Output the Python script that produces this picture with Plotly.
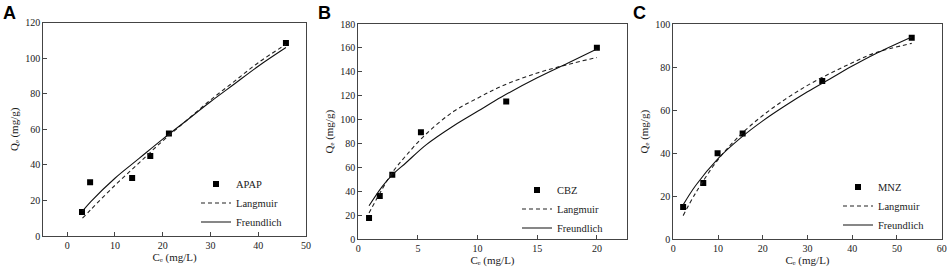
import plotly.graph_objects as go

# ---------------- data ----------------
# Panel A: APAP
apap_ce = [3.1, 4.8, 13.6, 17.4, 21.3, 45.8]
apap_qe = [13.5, 30.2, 32.7, 45.0, 57.6, 108.6]
apap_fit_ce = [3.2, 5, 10, 15, 20, 25, 30, 35, 40, 45.8]
apap_lang = [10.0, 15.0, 28.5, 41.0, 53.5, 65.0, 76.5, 87.0, 97.5, 107.8]
apap_freu = [14.0, 19.5, 32.5, 43.5, 54.5, 65.0, 75.5, 85.5, 95.5, 106.0]

# Panel B: CBZ
cbz_ce = [0.9, 1.8, 2.85, 5.25, 12.4, 20.0]
cbz_qe = [17.8, 36.2, 54.0, 89.4, 115.3, 160.2]
cbz_fit_ce = [0.9, 2, 2.87, 4, 5.68, 8, 10, 12, 15, 17.5, 20]
cbz_lang = [22, 42, 56, 70, 88, 107, 118, 128, 139, 146, 152]
cbz_freu = [28, 44, 54, 64, 79, 95, 107, 119, 135, 147, 159]

# Panel C: MNZ
mnz_ce = [2.2, 6.7, 9.9, 15.5, 33.3, 53.3]
mnz_qe = [15.0, 26.2, 40.0, 49.1, 73.5, 93.6]
mnz_fit_ce = [2.2, 5, 10, 15, 20, 25, 30, 35, 40, 45, 53.3]
mnz_lang = [11.0, 21.5, 37.0, 48.5, 57.5, 65.0, 71.5, 77.0, 82.0, 86.5, 91.0]
mnz_freu = [16.0, 25.0, 37.5, 47.0, 55.0, 62.0, 68.5, 74.5, 80.5, 86.0, 94.0]

x_title = "C\u2091 (mg/L)"
y_title = "Q\u2091 (mg/g)"

panels = [
    ("A", "APAP", apap_ce, apap_qe, apap_fit_ce, apap_lang, apap_freu),
    ("B", "CBZ", cbz_ce, cbz_qe, cbz_fit_ce, cbz_lang, cbz_freu),
    ("C", "MNZ", mnz_ce, mnz_qe, mnz_fit_ce, mnz_lang, mnz_freu),
]

# ---------------- layout geometry ----------------
W, H = 948, 274
x_dom = [(43.3 / W, 306 / W), (358.3 / W, 626.7 / W), (673.3 / W, 941.7 / W)]
y_dom = [(1 - 236 / H, 1 - 22.7 / H), (1 - 239.3 / H, 1 - 24 / H), (1 - 239.3 / H, 1 - 24 / H)]
x_rng = [(-5, 50), (0, 22.5), (0, 60)]
y_rng = [(0, 120), (0, 180), (0, 100)]
x_dt = [10, 5, 10]
y_dt = [20, 20, 20]
x_standoff = [0, 2, 3]
leg_pos = [(196 / W, 1 - 203 / H), (517 / W, 1 - 209 / H), (838 / W, 1 - 206 / H)]
letter_x = [1 / W, 316 / W, 631 / W]

SERIF = "Liberation Serif, Times New Roman, serif"
INK = "#1a1a1a"
AX = "#444444"

fig = go.Figure()
layout = dict(
    width=W, height=H, margin=dict(l=0, r=0, t=0, b=0, autoexpand=False),
    paper_bgcolor="white", plot_bgcolor="white",
    font=dict(family=SERIF, size=10, color=INK),
    annotations=[],
)

for i, (letter, name, ce, qe, fce, lang, freu) in enumerate(panels):
    n = "" if i == 0 else str(i + 1)
    xa, ya = "x" + n, "y" + n
    lg = "legend" + n
    fig.add_trace(go.Scatter(
        x=ce, y=qe, mode="markers", name=name, xaxis=xa, yaxis=ya, legend=lg,
        marker=dict(symbol="square", size=6, color="black"),
    ))
    fig.add_trace(go.Scatter(
        x=fce, y=lang, mode="lines", name="Langmuir", xaxis=xa, yaxis=ya, legend=lg,
        line=dict(color="#222222", width=1.1, dash="4px,3px", shape="spline", smoothing=1.0),
    ))
    fig.add_trace(go.Scatter(
        x=fce, y=freu, mode="lines", name="Freundlich", xaxis=xa, yaxis=ya, legend=lg,
        line=dict(color="#111111", width=1.1, shape="spline", smoothing=1.0),
    ))
    axcommon = dict(showgrid=False, zeroline=False, showline=True, mirror=True,
                    linecolor=AX, linewidth=1, ticks="inside", ticklen=4,
                    tickcolor=AX, automargin=False,
                    tickfont=dict(family=SERIF, size=10, color=INK))
    layout["xaxis" + n] = dict(
        axcommon, domain=list(x_dom[i]), range=list(x_rng[i]), tick0=0, dtick=x_dt[i],
        anchor=ya,
        title=dict(text=x_title, font=dict(family=SERIF, size=11, color=INK), standoff=x_standoff[i]),
    )
    layout["yaxis" + n] = dict(
        axcommon, domain=list(y_dom[i]), range=list(y_rng[i]), tick0=0, dtick=y_dt[i],
        anchor=xa,
        title=dict(text=y_title, font=dict(family=SERIF, size=11, color=INK), standoff=4),
    )
    layout[lg] = dict(
        x=leg_pos[i][0], y=leg_pos[i][1], xanchor="left", yanchor="middle",
        bgcolor="rgba(0,0,0,0)", borderwidth=0, tracegroupgap=0,
        font=dict(family=SERIF, size=10.5, color=INK), itemwidth=30,
    )
    layout["annotations"].append(dict(
        text="<b>%s</b>" % letter, x=letter_x[i], y=1 - 1 / H, xref="paper", yref="paper",
        xanchor="left", yanchor="top", showarrow=False,
        font=dict(family="Liberation Sans, Arial, sans-serif", size=18, color="black"),
    ))

fig.update_layout(**layout)
fig.write_html(
    "out.html",
    config={"displayModeBar": False},
    post_script="document.body.style.margin='0';document.body.style.overflow='hidden';",
)
